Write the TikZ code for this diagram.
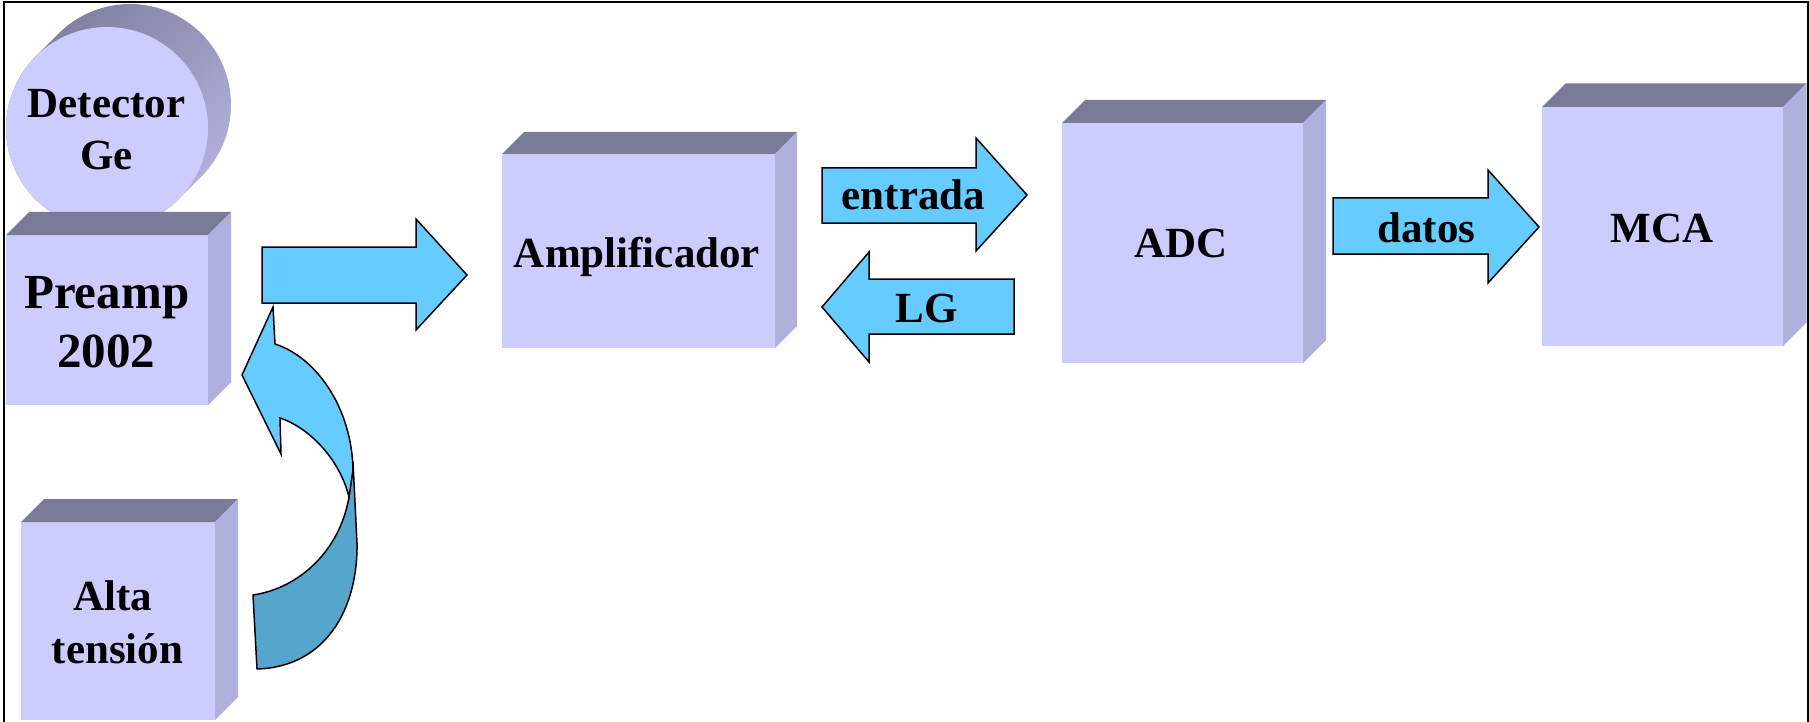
\documentclass[tikz,border=0pt]{standalone}
\usepackage{fontspec}
\setmainfont{Liberation Serif}
\usetikzlibrary{calc}
\definecolor{frontc}{HTML}{CCCCFF}
\definecolor{topc}{HTML}{7A7A99}
\definecolor{sidec}{HTML}{B0B0DE}
\definecolor{arrowc}{HTML}{66CCFF}
\definecolor{arrowdark}{HTML}{55A5CC}
\definecolor{cyldark}{HTML}{7E7E9E}
\definecolor{cyllight}{HTML}{B4B4E0}
\newcommand{\cubefaces}[2]{%
  \fill[topc] (#1.north west) -- ++(#2,-#2) -- ([shift={(#2,-#2)}]#1.north east) -- (#1.north east) -- cycle;
  \fill[sidec] (#1.north east) -- ++(#2,-#2) -- ([shift={(#2,-#2)}]#1.south east) -- (#1.south east) -- cycle;}
\begin{document}
\begin{tikzpicture}[x=1pt,y=-1pt,
  frontbox/.style={fill=frontc, draw=none, inner sep=0pt, outer sep=0pt},
  blockarrow/.style={fill=arrowc, draw=black, line width=1.5pt, line join=miter},
  lbl/.style={font=\fontsize{43}{50}\selectfont\bfseries, inner sep=0pt, anchor=base},
  biglbl/.style={font=\fontsize{49}{56}\selectfont\bfseries, inner sep=0pt, anchor=base}]
\useasboundingbox (0,0) rectangle (1809,722);
% frame
\draw[line width=2.4pt] (3.7,722) -- (3.7,2) -- (1808,2) -- (1808,722);

% detector cylinder
\begin{scope}
  \clip plot[domain=225:405,samples=90] ({130+101*cos(\x)},{105+101*sin(\x)})
     -- plot[domain=45:225,samples=90] ({107+101*cos(\x)},{128+101*sin(\x)}) -- cycle;
  \shade[top color=cyldark, bottom color=cyllight, shading angle=45] (0,0) rectangle (240,240);
\end{scope}
\node[circle, fill=frontc, minimum size=202pt, inner sep=0pt] (det) at (107,128) {};

% boxes
\node[frontbox, minimum width=202pt, minimum height=170pt] (pre) at (107,320) {};
\cubefaces{pre}{23}
\node[frontbox, minimum width=194pt, minimum height=198pt] (alta) at (118,621) {};
\cubefaces{alta}{23}
\node[frontbox, minimum width=273pt, minimum height=194pt] (amp) at (638.5,251) {};
\cubefaces{amp}{22}
\node[frontbox, minimum width=241pt, minimum height=240pt] (adc) at (1182.5,243) {};
\cubefaces{adc}{23}
\node[frontbox, minimum width=241pt, minimum height=239pt] (mca) at (1662.5,226.5) {};
\cubefaces{mca}{23.5}

% block arrows
\draw[blockarrow] (262,247) -- (416,247) -- (416,219) -- (467,275) -- (416,330) -- (416,303) -- (262,303) -- cycle;
\draw[blockarrow] (822,168) -- (976,168) -- (976,138) -- (1027,195) -- (976,251) -- (976,223) -- (822,223) -- cycle;
\draw[blockarrow] (1014,279) -- (869,279) -- (869,252) -- (822,307) -- (869,362) -- (869,334) -- (1014,334) -- cycle;
\draw[blockarrow] (1333,198) -- (1488,198) -- (1488,170) -- (1539,227) -- (1488,283) -- (1488,254) -- (1333,254) -- cycle;

% curved ribbon arrow from Alta tension to Preamp
\draw[fill=arrowdark, draw=black, line width=1.5pt, line join=round]
  (353,462) -- (357,543) .. controls (358,610) and (325,667) .. (257,669)
  -- (253,595) .. controls (300,588) and (340,550) .. (349,497) -- cycle;
\draw[fill=arrowc, draw=black, line width=1.5pt, line join=miter]
  (275,344) .. controls (318,358) and (352,410) .. (353,470)
  -- (349,497) .. controls (340,460) and (310,428) .. (280,418)
  -- (281,454) -- (242,375) -- (273,307) -- cycle;

% labels
\node[lbl] (det1) at (106.5,118) {Detector};
\node[lbl] (det2) at (106.7,170) {Ge};
\node[biglbl] (pre1) at (106.7,308) {Preamp};
\node[biglbl] (pre2) at (106,367) {2002};
\node[lbl] (alta1) at (112.5,610) {Alta};
\node[lbl] (alta2) at (117.5,663) {tensión};
\node[lbl] (ampl) at (637,267) {Amplificador};
\node[lbl] (entr) at (913.5,209) {entrada};
\node[lbl] (lg) at (926.5,322) {LG};
\node[lbl] (adcl) at (1181,257) {ADC};
\node[lbl] (datl) at (1426.5,242) {datos};
\node[lbl] (mcal) at (1662,242) {MCA};
\end{tikzpicture}
\end{document}
